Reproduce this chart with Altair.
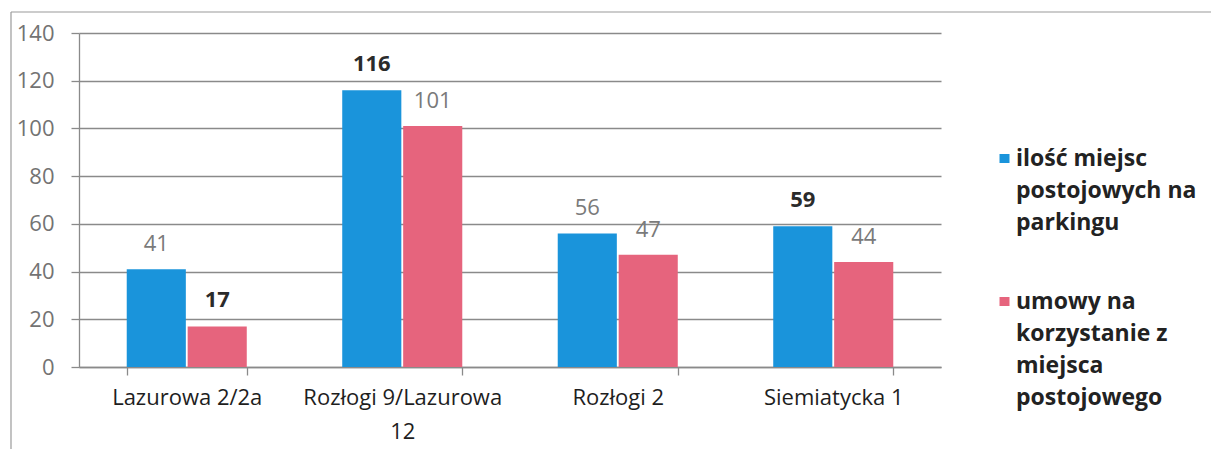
import altair as alt
import pandas as pd

categories = ["Lazurowa 2/2a", "Rozłogi 9/Lazurowa 12", "Rozłogi 2", "Siemiatycka 1"]
series = ["ilość miejsc postojowych na parkingu", "umowy na korzystanie z miejsca postojowego"]
miejsca = [41, 116, 56, 59]
umowy = [17, 101, 47, 44]
# which data labels are printed dark/bold in the original
bold_miejsca = [False, True, False, True]
bold_umowy = [True, False, False, False]

cat_label_lines = {"Rozłogi 9/Lazurowa 12": ["Rozłogi 9/Lazurowa", "12"]}
legend_label_lines = {
    series[0]: ["ilość miejsc", "postojowych na", "parkingu"],
    series[1]: ["umowy na", "korzystanie z", "miejsca", "postojowego"],
}
colors = ["#1a94db", "#e6647d"]

rows = []
for i, c in enumerate(categories):
    rows.append({"kategoria": c, "seria": series[0], "wartosc": miejsca[i], "bold": bold_miejsca[i]})
    rows.append({"kategoria": c, "seria": series[1], "wartosc": umowy[i], "bold": bold_umowy[i]})
df = pd.DataFrame(rows)

FONT = "Open Sans"


def js_lines(d):
    expr = "datum.label"
    for k, v in d.items():
        arr = "[" + ",".join("'" + s + "'" for s in v) + "]"
        expr = f"datum.label == '{k}' ? {arr} : ({expr})"
    return expr


x_enc = alt.X(
    "kategoria:N",
    sort=categories,
    scale=alt.Scale(paddingInner=0.443, paddingOuter=0.2215),
    axis=alt.Axis(
        title=None,
        labelAngle=0,
        labelFont=FONT,
        labelFontSize=22,
        labelColor="#1e1e1e",
        labelPadding=12,
        labelLineHeight=34,
        labelExpr=js_lines(cat_label_lines),
        labelLimit=400,
        tickBand="extent",
        tickSize=8,
        tickColor="#8a8a8a",
        domainColor="#8a8a8a",
        domainWidth=1.3,
        tickWidth=1.3,
        grid=False,
    ),
)
xoff = alt.XOffset("seria:N", sort=series, scale=alt.Scale(paddingInner=0.03))
y_enc = alt.Y(
    "wartosc:Q",
    scale=alt.Scale(domain=[0, 140], nice=False),
    axis=alt.Axis(
        title=None,
        values=list(range(0, 141, 20)),
        labelFont=FONT,
        labelFontSize=22,
        labelColor="#737373",
        labelPadding=17,
        tickSize=8,
        tickColor="#8a8a8a",
        tickWidth=1.3,
        domainColor="#8a8a8a",
        domainWidth=1.3,
        gridColor="#8a8a8a",
        gridWidth=1.3,
    ),
)

color_enc = alt.Color(
    "seria:N",
    sort=series,
    scale=alt.Scale(domain=series, range=colors),
    legend=alt.Legend(
        title=None,
        orient="none",
        legendX=914,
        legendY=103,
        padding=0,
        labelFont=FONT,
        labelFontSize=23,
        labelFontWeight="bold",
        labelColor="#222222",
        labelBaseline="top",
        labelOffset=0,
        labelLimit=400,
        labelExpr=js_lines(legend_label_lines),
        symbolType="M-1,1.3H1V3.1H-1Z",
        symbolSize=100,
        symbolStrokeWidth=0,
        rowPadding=44,
    ),
)

base = alt.Chart(df)
bars = base.mark_bar().encode(x=x_enc, xOffset=xoff, y=y_enc, color=color_enc)

lab_gray = base.transform_filter("!datum.bold").mark_text(
    font=FONT, fontSize=22, color="#7a7a7a", baseline="middle", dy=-25
).encode(x=alt.X("kategoria:N", sort=categories), xOffset=xoff, y="wartosc:Q", text="wartosc:Q")
lab_bold = base.transform_filter("datum.bold").mark_text(
    font=FONT, fontSize=22, fontWeight="bold", color="#2b2b2b", baseline="middle", dy=-26
).encode(x=alt.X("kategoria:N", sort=categories), xOffset=xoff, y="wartosc:Q", text="wartosc:Q")

frame_top = alt.Chart(pd.DataFrame({"a": [0]})).mark_rule(color="#9a9a9a", strokeWidth=1.2).encode(
    x=alt.value(-68), x2=alt.value(1200), y=alt.value(-21)
)
frame_left = alt.Chart(pd.DataFrame({"a": [0]})).mark_rule(color="#9a9a9a", strokeWidth=1.2).encode(
    x=alt.value(-68), y=alt.value(-21), y2=alt.value(430)
)

chart = (
    alt.layer(frame_top, frame_left, bars, lab_gray, lab_bold)
    .properties(
        width=862,
        height=334,
        padding={"left": 71, "top": 25, "right": 270, "bottom": 82},
        autosize=alt.AutoSizeParams(type="none"),
    )
    .configure(style={"guide-label": {"lineHeight": 32}})
    .configure_view(stroke=None)
)

chart.save("out.html", embed_options={"renderer": "svg", "actions": False})
